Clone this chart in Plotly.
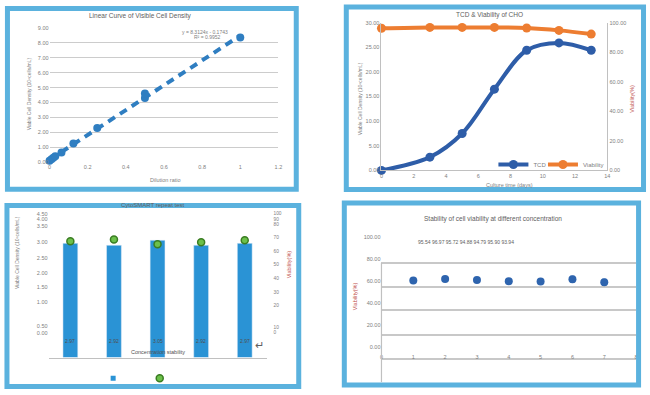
import numpy as np
import plotly.graph_objects as go

W, H = 650, 395

# ---------------- data ----------------
# Panel 1: linear curve
dilution = [0.0, 0.01, 0.02, 0.03, 0.0625, 0.125, 0.25, 0.5, 0.5, 1.0]
density = [0.1, 0.2, 0.3, 0.4, 0.65, 1.25, 2.3, 4.3, 4.6, 8.35]
eq_text = ["y = 8.3124x - 0.1743", "R² = 0.9952"]
p1_xticks = [0, 0.2, 0.4, 0.6, 0.8, 1.0, 1.2]
p1_xlabels = ["0", "0.2", "0.4", "0.6", "0.8", "1", "1.2"]

# Panel 2: TCD & viability
days = [0, 3, 5, 7, 9, 11, 13]
tcd = [0.0, 2.7, 7.5, 16.5, 24.4, 25.9, 24.4]
viability = [96.2, 96.8, 96.8, 96.8, 96.4, 94.8, 92.3]

# Panel 3: repeat test
repeat_cat = ["1", "2", "3", "4", "5"]
repeat_density = [2.97, 2.92, 3.05, 2.92, 2.97]
repeat_density_text = ["2.97", "2.92", "3.05", "2.92", "2.97"]
repeat_viab = [76.7, 78.3, 74.2, 75.8, 77.5]
p3_left_tickvals = [0.64, 0.82, 1.44, 1.82, 2.2, 2.6, 3.0, 3.41, 3.59, 3.74]
p3_left_ticktext = ["0.00", "0.50", "1.00", "1.50", "2.00", "2.50", "3.00", "3.50", "4.00", "4.50"]
p3_right_tickvals = [0, 4.2, 22.5, 33.3, 45, 57.5, 68.3, 80, 90.8, 95.4, 100]
p3_right_ticktext = ["0", "10", "20", "30", "40", "50", "60", "70", "80", "90", "100"]

# Panel 4: stability of viability
conc = [1, 2, 3, 4, 5, 6, 7]
stab_viab = [60.6, 62.0, 61.0, 59.8, 59.7, 61.6, 58.9]
stab_err = [1.0, 1.0, 1.0, 1.0, 1.0, 2.6, 2.6]
stab_labels = "95.54 96.97 95.72 94.88 94.79 95.90 93.94"
p4_grid_vals = [76.6, 55.0, 33.3, 10.8, -10.8]

# ---------------- helpers ----------------
def fx(p):
    return p / W

def fy(p):
    return 1 - p / H

FONT = "Liberation Sans"
GRAY = "#808080"
tickfont = dict(family=FONT, size=5.5, color=GRAY)
BAR_BLUE = "#2A93D5"
GREEN = "#6CC04A"

fig = go.Figure()

# Panel 1
coef = np.polyfit(dilution, density, 1)
tx = [min(dilution), max(dilution)]
ty = [coef[0] * v + coef[1] for v in tx]
fig.add_trace(go.Scatter(x=tx, y=ty, mode="lines", xaxis="x", yaxis="y",
                         line=dict(color="#2F7EC1", width=4, dash="8px,6px"),
                         showlegend=False, cliponaxis=False))
fig.add_trace(go.Scatter(x=dilution, y=density, mode="markers", xaxis="x", yaxis="y",
                         marker=dict(color="#2F7EC1", size=8), showlegend=False,
                         cliponaxis=False))

# Panel 2
fig.add_trace(go.Scatter(x=days, y=tcd, mode="lines+markers", name="TCD",
                         xaxis="x2", yaxis="y2", line=dict(color="#2E5DA8", width=4, shape="spline"),
                         marker=dict(size=9, color="#2E5DA8"), legend="legend", cliponaxis=False))
fig.add_trace(go.Scatter(x=days, y=viability, mode="lines+markers", name="Viability",
                         xaxis="x2", yaxis="y3", line=dict(color="#ED7D31", width=4, shape="spline"),
                         marker=dict(size=9, color="#ED7D31"), legend="legend4", cliponaxis=False))

# Panel 3
fig.add_trace(go.Bar(x=repeat_cat, y=repeat_density, xaxis="x3", yaxis="y4", name="",
                     marker=dict(color=BAR_BLUE), showlegend=False))
fig.add_trace(go.Scatter(x=repeat_cat, y=repeat_viab, mode="markers", xaxis="x3", yaxis="y5",
                         name="", marker=dict(size=7, color=GREEN,
                                              line=dict(color="#3A7D22", width=1.5)),
                         legend="legend3", cliponaxis=False))
# legend-only key for the bars (small square, as in the reference)
fig.add_trace(go.Scatter(x=[None], y=[None], mode="markers", xaxis="x3", yaxis="y4",
                         name="", marker=dict(size=5, color=BAR_BLUE, symbol="square"),
                         legend="legend2"))

# Panel 4
fig.add_trace(go.Scatter(x=conc, y=stab_viab, mode="markers", xaxis="x4", yaxis="y6",
                         marker=dict(size=8, color="#2E64AE"),
                         error_y=dict(type="data", array=stab_err, color="#2E64AE",
                                      thickness=1.5, width=2),
                         showlegend=False, cliponaxis=False))

axis_common = dict(zeroline=False, ticks="", tickfont=tickfont)
legfont = dict(family=FONT, size=6, color=GRAY)

fig.update_layout(
    width=W, height=H, margin=dict(l=0, r=0, t=0, b=0),
    paper_bgcolor="white", plot_bgcolor="rgba(0,0,0,0)",
    font=dict(family=FONT, color=GRAY),
    bargap=0.66,
    xaxis=dict(domain=[fx(48), fx(279)], anchor="y", range=[0, 1.2],
               tickvals=p1_xticks, ticktext=p1_xlabels, showgrid=False,
               showline=False, **axis_common),
    yaxis=dict(domain=[fy(162), fy(25)], anchor="x", range=[-0.02, 9.02], dtick=1,
               tickformat=".2f", showgrid=True, gridcolor="#cccccc", gridwidth=1.3,
               **axis_common),
    xaxis2=dict(domain=[fx(383), fx(611)], anchor="y2", range=[0, 14], dtick=2,
                showgrid=False, showline=True, linecolor="#c0c0c0", **axis_common),
    yaxis2=dict(domain=[fy(170), fy(20)], anchor="x2", range=[0, 30], dtick=5,
                tickformat=".2f", showgrid=False, showline=True, linecolor="#c0c0c0",
                **axis_common),
    yaxis3=dict(domain=[fy(170), fy(20)], anchor="x2", overlaying="y2", side="right",
                range=[0, 100], dtick=20, tickformat=".2f", showgrid=False,
                showline=True, linecolor="#c0c0c0", **axis_common),
    xaxis3=dict(domain=[fx(47), fx(267)], anchor="y4", type="category",
                showgrid=False, showline=True, linecolor="#c0c0c0", linewidth=1.2,
                showticklabels=False, **axis_common),
    yaxis4=dict(domain=[fy(360), fy(214)], anchor="x3", range=[0, 3.74],
                tickvals=p3_left_tickvals, ticktext=p3_left_ticktext, showgrid=False,
                showline=False, **axis_common),
    yaxis5=dict(domain=[fy(360), fy(214)], anchor="x3", overlaying="y4", side="right",
                range=[-21.7, 100], tickvals=p3_right_tickvals, ticktext=p3_right_ticktext,
                showgrid=False, showline=False, ticklabelstandoff=6, zeroline=False,
                ticks="", tickfont=dict(family=FONT, size=4.8, color=GRAY)),
    xaxis4=dict(domain=[fx(383), fx(640)], anchor="free", position=fy(355), range=[0, 8],
                dtick=1, showgrid=False, showline=False, **axis_common),
    yaxis6=dict(domain=[fy(385), fy(230)], anchor="x4", range=[-32.4, 107.2],
                tickvals=[0, 20, 40, 60, 80, 100], tickformat=".2f", showgrid=False,
                showline=False,
                minor=dict(tickvals=p4_grid_vals, showgrid=True, gridcolor="#c8c8c8",
                           gridwidth=1.5, ticks=""),
                **axis_common),
    legend=dict(orientation="h", x=fx(496), y=fy(164), xanchor="left", yanchor="middle",
                font=legfont, bgcolor="rgba(0,0,0,0)", itemwidth=30),
    legend4=dict(orientation="h", x=fx(546), y=fy(164), xanchor="left", yanchor="middle",
                 font=legfont, bgcolor="rgba(0,0,0,0)", itemwidth=30),
    legend2=dict(orientation="h", x=fx(92), y=fy(381), xanchor="left", yanchor="middle",
                 font=legfont, bgcolor="rgba(0,0,0,0)", itemwidth=30),
    legend3=dict(orientation="h", x=fx(139), y=fy(381), xanchor="left", yanchor="middle",
                 font=legfont, bgcolor="rgba(0,0,0,0)", itemwidth=30),
)

# Panel frames
BORDER = "#5BB2DE"
frames = [(5.5, 5.5, 297, 189), (347.5, 4, 647.5, 189.5),
          (5, 205.5, 299.5, 389.5), (345.5, 203, 642.5, 388)]
shapes = []
for x0, y0, x1, y1 in frames:
    shapes.append(dict(type="rect", xref="paper", yref="paper",
                       x0=fx(x0), x1=fx(x1), y0=fy(y1), y1=fy(y0),
                       line=dict(color=BORDER, width=5), fillcolor="rgba(0,0,0,0)",
                       layer="above"))
# panel 4 left axis line
shapes.append(dict(type="line", xref="paper", yref="paper", x0=fx(383), x1=fx(383),
                   y0=fy(385), y1=fy(264), line=dict(color="#c0c0c0", width=1.2)))
fig.update_layout(shapes=shapes)

# value labels at the foot of each bar (category index positions)
for idx, lab in enumerate(repeat_density_text):
    fig.add_annotation(text=lab, x=idx, y=0.44, xref="x3", yref="y4", showarrow=False,
                       xanchor="center", yanchor="middle",
                       font=dict(family=FONT, size=5, color="#505050"))

def ann(text, x, y, size=6, color=GRAY, angle=0):
    fig.add_annotation(text=text, x=fx(x), y=fy(y), xref="paper", yref="paper",
                       xanchor="center", yanchor="middle",
                       showarrow=False, textangle=angle,
                       font=dict(family=FONT, size=size, color=color))

# Panel 1 texts
ann("Linear Curve of Visible Cell Density", 140, 13, size=6.5, color="#606060")
ann("Viable Cell Density (10⁶cells/mL)", 27, 92, size=5, angle=-90)
ann("Dilution ratio", 165, 180, size=5.5)
ann(eq_text[0], 205, 29, size=5)
ann(eq_text[1], 207, 35, size=5)

# Panel 2 texts
ann("TCD &amp; Viability of CHO", 492, 12, size=6.5, color="#606060")
ann("Viable Cell Density (10⁶cells/mL)", 361, 97, size=5, angle=-90)
ann("Viability(%)", 635, 97, size=5.5, angle=-90, color="#c0504d")
ann("Culture time (days)", 512, 185, size=5.5)

# Panel 3 texts
ann("CytoSMART repeat test", 152, 205, size=6, color="#606060")
ann("Viable Cell Density (10⁶cells/mL)", 15, 253, size=5, angle=-90)
ann("Viability(%)", 290, 265, size=5.5, angle=-90, color="#c0504d")
ann("Concentration stability", 157, 354, size=5.5, color="#505050")
ann("↵", 260, 347, size=11, color="#606060")

# Panel 4 texts
ann("Stability of cell viability at different concentration", 496, 219, size=6.5,
    color="#606060")
ann(stab_labels, 468, 243, size=5, color="#606060")
ann("Viability(%)", 357, 298, size=5.5, angle=-90, color="#c0504d")

fig.write_html("out.html", config={"displayModeBar": False},
               post_script="document.body.style.margin='0px';"
                           "document.body.style.overflow='hidden';")
